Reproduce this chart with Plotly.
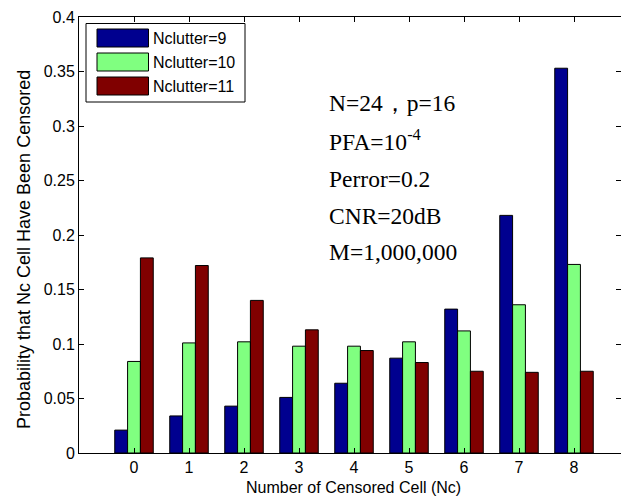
import plotly.graph_objects as go

# Censored-cell counts on the x axis
categories = [0, 1, 2, 3, 4, 5, 6, 7, 8]

# Probability of each censored-cell count for three clutter sizes
p_nclutter_9 = [0.021, 0.034, 0.043, 0.051, 0.064, 0.087, 0.132, 0.218, 0.353]
p_nclutter_10 = [0.084, 0.101, 0.102, 0.098, 0.098, 0.102, 0.112, 0.136, 0.173]
p_nclutter_11 = [0.179, 0.172, 0.140, 0.113, 0.094, 0.083, 0.075, 0.074, 0.075]

series_names = ["Nclutter=9", "Nclutter=10", "Nclutter=11"]
series_colors = ["#00008F", "#80FF80", "#800000"]

y_ticks = [0, 0.05, 0.1, 0.15, 0.2, 0.25, 0.3, 0.35, 0.4]
y_tick_labels = ["0", "0.05", "0.1", "0.15", "0.2", "0.25", "0.3", "0.35", "0.4"]

param_lines = [
    "N=24，p=16",
    "PFA=10<sup>-4</sup>",
    "Perror=0.2",
    "CNR=20dB",
    "M=1,000,000",
]

W, H = 621, 497
ML, MR, MT, MB = 79, 0, 17, 44
PW = W - ML - MR
PH = H - MT - MB


def px_x(x):
    return (x - ML) / PW


def px_y(y):
    return (H - MB - y) / PH


SANS = "Liberation Sans, Arial, sans-serif"
SERIF = "Liberation Serif, Times New Roman, serif"

fig = go.Figure()
for name, vals, col in zip(series_names, [p_nclutter_9, p_nclutter_10, p_nclutter_11], series_colors):
    fig.add_trace(go.Bar(
        x=categories, y=vals, name=name,
        marker=dict(color=col, line=dict(color="black", width=1)),
    ))

shapes = []
annotations = []

# Legend box drawn in pixel-derived paper coordinates
shapes.append(dict(type="rect", xref="paper", yref="paper",
                   x0=px_x(86), x1=px_x(245), y0=px_y(102), y1=px_y(23.5),
                   line=dict(color="black", width=1), fillcolor="white", layer="above"))
row_centers = [38, 62, 86]
for name, col, cy in zip(series_names, series_colors, row_centers):
    shapes.append(dict(type="rect", xref="paper", yref="paper",
                       x0=px_x(97), x1=px_x(148.5), y0=px_y(cy + 9), y1=px_y(cy - 9),
                       line=dict(color="black", width=1), fillcolor=col, layer="above"))
    annotations.append(dict(text=name, xref="paper", yref="paper",
                            x=px_x(151), y=px_y(cy), xanchor="left", yanchor="middle",
                            showarrow=False, font=dict(family=SANS, size=16, color="black")))

# Simulation parameters text block
line_centers = [103, 140, 179, 216, 252]
for txt, cy in zip(param_lines, line_centers):
    annotations.append(dict(text=txt, xref="paper", yref="paper",
                            x=px_x(327), y=px_y(cy), xanchor="left", yanchor="middle",
                            showarrow=False, font=dict(family=SERIF, size=23.5, color="black")))

# Axis titles
annotations.append(dict(text="Number of Censored Cell (Nc)", xref="paper", yref="paper",
                        x=px_x(353.5), y=px_y(487), xanchor="center", yanchor="middle",
                        showarrow=False, font=dict(family=SANS, size=16, color="black")))
annotations.append(dict(text="Probability that Nc Cell Have Been Censored", xref="paper", yref="paper",
                        x=px_x(24), y=px_y(250), xanchor="center", yanchor="middle", textangle=-90,
                        showarrow=False, font=dict(family=SANS, size=18, color="black")))

fig.update_layout(
    width=W, height=H,
    margin=dict(l=ML, r=MR, t=MT, b=MB, pad=0),
    paper_bgcolor="white", plot_bgcolor="white",
    barmode="group", bargap=0.3, bargroupgap=0,
    showlegend=False,
    shapes=shapes, annotations=annotations,
    font=dict(family=SANS, size=16, color="black"),
)
fig.update_xaxes(
    range=[-1, -1 + PW / 55.0], tickmode="array", tickvals=categories,
    ticktext=[str(c) for c in categories],
    ticks="inside", ticklen=5, tickcolor="black",
    showline=True, linecolor="black", linewidth=1, mirror="ticks",
    showgrid=False, zeroline=False,
    tickfont=dict(family=SANS, size=16, color="black"),
)
fig.update_yaxes(
    range=[0, 0.4], tickmode="array", tickvals=y_ticks, ticktext=y_tick_labels,
    ticks="inside", ticklen=5, tickcolor="black",
    showline=True, linecolor="black", linewidth=1, mirror="ticks",
    showgrid=False, zeroline=False,
    tickfont=dict(family=SANS, size=16, color="black"),
)

fig.write_html("out.html")
